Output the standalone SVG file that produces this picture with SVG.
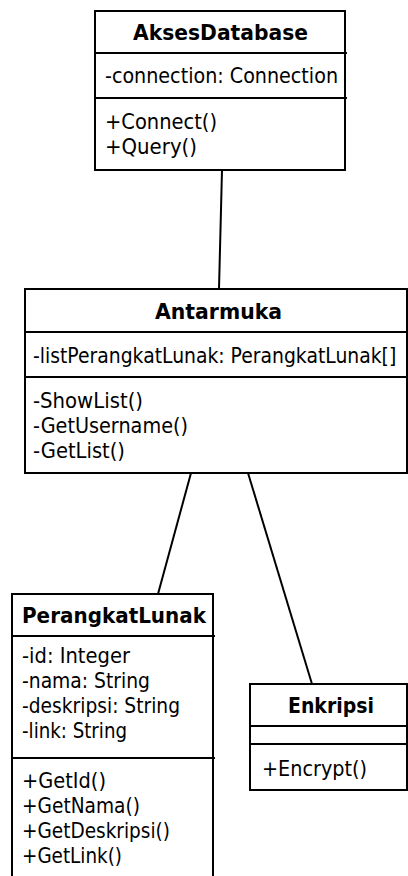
<svg xmlns="http://www.w3.org/2000/svg" width="408" height="876" viewBox="0 0 408 876">
<style>
.box{fill:#fff;stroke:#000;stroke-width:2}
.ln{stroke:#000;stroke-width:2;fill:none}
.t{font-family:"DejaVu Sans","Liberation Sans",sans-serif;font-size:21px;fill:#000}
.h{font-weight:bold;text-anchor:middle}
</style>
<rect width="408" height="876" fill="#fff"/>
<g id="connectors">
<line class="ln" x1="222" y1="170" x2="219" y2="289"/>
<line class="ln" x1="191" y1="473" x2="158" y2="594"/>
<line class="ln" x1="248" y1="473" x2="312" y2="684"/>
</g>
<g id="AksesDatabase">
<rect class="box" x="95" y="11" width="250" height="159"/>
<line class="ln" x1="95" y1="53" x2="347" y2="53"/>
<line class="ln" x1="95" y1="98" x2="347" y2="98"/>
<text class="t h" x="220.5" y="40" textLength="175" lengthAdjust="spacingAndGlyphs">AksesDatabase</text>
<text class="t" x="105" y="83" textLength="233" lengthAdjust="spacingAndGlyphs">-connection: Connection</text>
<text class="t" x="105" y="129" textLength="112" lengthAdjust="spacingAndGlyphs">+Connect()</text>
<text class="t" x="105" y="154" textLength="92" lengthAdjust="spacingAndGlyphs">+Query()</text>
</g>
<g id="Antarmuka">
<rect class="box" x="25" y="289" width="382" height="184"/>
<line class="ln" x1="25" y1="332" x2="407" y2="332"/>
<line class="ln" x1="25" y1="377" x2="407" y2="377"/>
<text class="t h" x="218.5" y="319" textLength="127" lengthAdjust="spacingAndGlyphs">Antarmuka</text>
<text class="t" transform="translate(33 363) scale(0.895 1)" x="0" y="0">-listPerangkatLunak: PerangkatLunak[]</text>
<text class="t" x="33" y="408" textLength="110" lengthAdjust="spacingAndGlyphs">-ShowList()</text>
<text class="t" x="33" y="433" textLength="155" lengthAdjust="spacingAndGlyphs">-GetUsername()</text>
<text class="t" x="33" y="458" textLength="92" lengthAdjust="spacingAndGlyphs">-GetList()</text>
</g>
<g id="PerangkatLunak">
<rect class="box" x="12" y="594" width="201" height="292"/>
<line class="ln" x1="12" y1="636" x2="215" y2="636"/>
<line class="ln" x1="12" y1="758" x2="215" y2="758"/>
<text class="t h" x="114" y="623" textLength="184" lengthAdjust="spacingAndGlyphs">PerangkatLunak</text>
<text class="t" x="22" y="663" textLength="108" lengthAdjust="spacingAndGlyphs">-id: Integer</text>
<text class="t" x="22" y="688" textLength="128" lengthAdjust="spacingAndGlyphs">-nama: String</text>
<text class="t" x="22" y="713" textLength="158" lengthAdjust="spacingAndGlyphs">-deskripsi: String</text>
<text class="t" x="22" y="738" textLength="105" lengthAdjust="spacingAndGlyphs">-link: String</text>
<text class="t" x="22" y="788" textLength="84" lengthAdjust="spacingAndGlyphs">+GetId()</text>
<text class="t" x="22" y="813" textLength="118" lengthAdjust="spacingAndGlyphs">+GetNama()</text>
<text class="t" x="22" y="838" textLength="148" lengthAdjust="spacingAndGlyphs">+GetDeskripsi()</text>
<text class="t" x="22" y="863" textLength="100" lengthAdjust="spacingAndGlyphs">+GetLink()</text>
</g>
<g id="Enkripsi">
<rect class="box" x="250" y="684" width="157" height="106"/>
<line class="ln" x1="250" y1="726" x2="407" y2="726"/>
<line class="ln" x1="250" y1="744" x2="407" y2="744"/>
<text class="t h" x="331" y="713" textLength="86" lengthAdjust="spacingAndGlyphs">Enkripsi</text>
<text class="t" x="262" y="776" textLength="105" lengthAdjust="spacingAndGlyphs">+Encrypt()</text>
</g>
</svg>
